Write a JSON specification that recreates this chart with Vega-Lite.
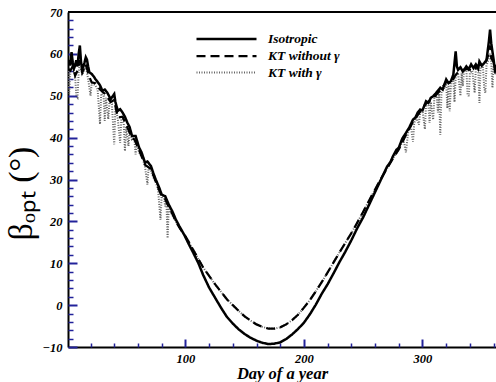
{
"$schema": "https://vega.github.io/schema/vega-lite/v6.json",
"width": 428, "height": 335,
"autosize": {"type": "none"},
"padding": {"left": 68, "top": 12, "right": 0, "bottom": 35},
"background": "white",
"config": {"view": {"stroke": null}, "font": "Liberation Serif", "axis": {"ticks": true, "tickOpacity": 1}},
"datasets": {
"iso": [{"d":1,"v":57.5},{"d":2,"v":58.5},{"d":3,"v":57.2},{"d":4,"v":60.4},{"d":5,"v":58},{"d":6,"v":56.5},{"d":7,"v":57.2},{"d":8,"v":58.5},{"d":9,"v":57},{"d":10,"v":60},{"d":11,"v":62},{"d":12,"v":58},{"d":13,"v":56.4},{"d":14,"v":57},{"d":15,"v":58},{"d":16,"v":59.2},{"d":17,"v":58.6},{"d":18,"v":57},{"d":19,"v":55.6},{"d":21,"v":55.2},{"d":23,"v":54.5},{"d":24,"v":54},{"d":26,"v":53.3},{"d":28,"v":52.5},{"d":30,"v":51.2},{"d":32,"v":51.5},{"d":34,"v":50.8},{"d":37,"v":49.2},{"d":40,"v":50.4},{"d":41,"v":48.5},{"d":43,"v":46.4},{"d":45,"v":46.8},{"d":47,"v":46},{"d":49,"v":45},{"d":51,"v":43.6},{"d":53,"v":42.5},{"d":55,"v":40.4},{"d":58,"v":40.4},{"d":61,"v":37.6},{"d":63,"v":36.5},{"d":66,"v":34},{"d":68,"v":34.3},{"d":71,"v":33.2},{"d":73,"v":31.5},{"d":75,"v":30},{"d":78,"v":28},{"d":80,"v":26.4},{"d":83,"v":26},{"d":86,"v":24},{"d":89,"v":22.4},{"d":92,"v":20.4},{"d":95,"v":18.8},{"d":99,"v":16.8},{"d":103,"v":14.5},{"d":107,"v":12.3},{"d":111,"v":10},{"d":115,"v":7.2},{"d":120,"v":4.2},{"d":125,"v":1.8},{"d":130,"v":-0.6},{"d":135,"v":-2.8},{"d":140,"v":-4.4},{"d":145,"v":-5.8},{"d":150,"v":-6.9},{"d":155,"v":-7.8},{"d":160,"v":-8.5},{"d":165,"v":-9.0},{"d":170,"v":-9.3},{"d":175,"v":-9.2},{"d":180,"v":-8.9},{"d":185,"v":-8.1},{"d":190,"v":-7.0},{"d":195,"v":-5.7},{"d":200,"v":-4.2},{"d":205,"v":-2.2},{"d":210,"v":0.1},{"d":215,"v":2.7},{"d":220,"v":5.0},{"d":225,"v":7.6},{"d":230,"v":10.3},{"d":235,"v":12.8},{"d":240,"v":15.5},{"d":245,"v":18.4},{"d":250,"v":21.0},{"d":255,"v":24.0},{"d":260,"v":27.0},{"d":265,"v":30.0},{"d":270,"v":33.0},{"d":273,"v":34.2},{"d":275,"v":35.5},{"d":278,"v":37.1},{"d":280,"v":37.6},{"d":283,"v":39.8},{"d":286,"v":41.1},{"d":289,"v":42.5},{"d":292,"v":44.3},{"d":294,"v":44.8},{"d":296,"v":46.0},{"d":298,"v":46.7},{"d":300,"v":46.5},{"d":303,"v":48.7},{"d":305,"v":48.3},{"d":307,"v":49.5},{"d":309,"v":49.9},{"d":311,"v":50.5},{"d":313,"v":51.2},{"d":315,"v":51.9},{"d":317,"v":51.5},{"d":320,"v":53.9},{"d":322,"v":53.0},{"d":324,"v":53.5},{"d":326,"v":55},{"d":328,"v":60.6},{"d":329,"v":57},{"d":330,"v":56.2},{"d":332,"v":56.8},{"d":334,"v":55.8},{"d":337,"v":57},{"d":339,"v":56.3},{"d":341,"v":57.5},{"d":343,"v":56.6},{"d":345,"v":57.5},{"d":347,"v":56.5},{"d":348,"v":58.2},{"d":350,"v":57.2},{"d":352,"v":57.8},{"d":354,"v":58.5},{"d":356,"v":63},{"d":357,"v":65.8},{"d":358,"v":62.5},{"d":360,"v":58.6},{"d":361,"v":56.2},{"d":363,"v":57.5},{"d":365,"v":58}],
"ktn": [{"d":1,"v":56.5},{"d":3,"v":56},{"d":5,"v":57},{"d":7,"v":54.8},{"d":9,"v":56},{"d":11,"v":58.5},{"d":13,"v":55.5},{"d":16,"v":57.5},{"d":19,"v":54.5},{"d":21,"v":53.2},{"d":24,"v":53},{"d":28,"v":51.5},{"d":32,"v":50.5},{"d":37,"v":48.5},{"d":40,"v":49},{"d":43,"v":44.8},{"d":47,"v":45},{"d":51,"v":42.5},{"d":55,"v":39.8},{"d":57,"v":39.6},{"d":61,"v":37},{"d":66,"v":33.5},{"d":71,"v":32.5},{"d":75,"v":29.5},{"d":80,"v":26},{"d":83,"v":25.3},{"d":86,"v":23.5},{"d":89,"v":21.8},{"d":92,"v":20},{"d":95,"v":18.5},{"d":100,"v":16.5},{"d":105,"v":14.0},{"d":110,"v":11.5},{"d":115,"v":9.0},{"d":120,"v":7.0},{"d":125,"v":5.0},{"d":130,"v":3.2},{"d":135,"v":1.4},{"d":140,"v":0.0},{"d":145,"v":-1.4},{"d":150,"v":-2.7},{"d":155,"v":-3.7},{"d":160,"v":-4.6},{"d":165,"v":-5.2},{"d":170,"v":-5.6},{"d":175,"v":-5.6},{"d":180,"v":-5.3},{"d":185,"v":-4.6},{"d":190,"v":-3.6},{"d":195,"v":-2.3},{"d":200,"v":-0.6},{"d":205,"v":1.2},{"d":210,"v":3.3},{"d":215,"v":5.5},{"d":220,"v":7.8},{"d":225,"v":10.2},{"d":230,"v":12.6},{"d":235,"v":14.9},{"d":240,"v":17.2},{"d":245,"v":19.7},{"d":250,"v":22.3},{"d":255,"v":25.0},{"d":260,"v":27.6},{"d":265,"v":30.2},{"d":270,"v":32.6},{"d":275,"v":35},{"d":280,"v":37.2},{"d":286,"v":40.6},{"d":292,"v":43.8},{"d":298,"v":46.2},{"d":303,"v":48.2},{"d":309,"v":49.4},{"d":315,"v":51.3},{"d":320,"v":53.3},{"d":324,"v":53},{"d":328,"v":55},{"d":330,"v":55.6},{"d":337,"v":56.4},{"d":343,"v":56},{"d":348,"v":57.5},{"d":352,"v":57.2},{"d":356,"v":60},{"d":357,"v":62},{"d":358,"v":59},{"d":360,"v":58},{"d":362,"v":55.8},{"d":365,"v":57.5}],
"ktg": [{"d":1,"v":56.5},{"d":2,"v":50.4},{"d":3,"v":56},{"d":5,"v":57},{"d":7,"v":54.8},{"d":8,"v":50},{"d":9,"v":49.6},{"d":10,"v":55.5},{"d":11,"v":58},{"d":13,"v":55},{"d":16,"v":57},{"d":18,"v":54},{"d":19,"v":52},{"d":20,"v":50},{"d":21,"v":53},{"d":24,"v":52.5},{"d":26,"v":51.5},{"d":28,"v":43.2},{"d":29,"v":50.5},{"d":31,"v":50},{"d":32,"v":44},{"d":33,"v":49.5},{"d":35,"v":44.4},{"d":36,"v":48.5},{"d":38,"v":48},{"d":40,"v":38.4},{"d":41,"v":47.5},{"d":43,"v":44.5},{"d":45,"v":38.8},{"d":46,"v":44.5},{"d":48,"v":43.5},{"d":49,"v":36.8},{"d":50,"v":42.5},{"d":52,"v":38},{"d":53,"v":41.5},{"d":55,"v":39.5},{"d":57,"v":39.5},{"d":58,"v":36},{"d":59,"v":38.5},{"d":61,"v":36.5},{"d":64,"v":35},{"d":66,"v":33},{"d":68,"v":28.8},{"d":69,"v":33},{"d":71,"v":32},{"d":73,"v":30.5},{"d":75,"v":29.5},{"d":77,"v":27.5},{"d":79,"v":20.4},{"d":80,"v":26},{"d":82,"v":25.5},{"d":83,"v":23.6},{"d":84,"v":25},{"d":85,"v":16},{"d":86,"v":23.5},{"d":88,"v":22},{"d":89,"v":21.5},{"d":92,"v":20},{"d":95,"v":18.5},{"d":100,"v":16.5},{"d":105,"v":14.0},{"d":110,"v":11.5},{"d":115,"v":9.0},{"d":120,"v":7.0},{"d":125,"v":5.0},{"d":130,"v":3.2},{"d":135,"v":1.4},{"d":140,"v":0.0},{"d":145,"v":-1.4},{"d":150,"v":-2.7},{"d":155,"v":-3.7},{"d":160,"v":-4.6},{"d":165,"v":-5.2},{"d":170,"v":-5.6},{"d":175,"v":-5.6},{"d":180,"v":-5.3},{"d":185,"v":-4.6},{"d":190,"v":-3.6},{"d":195,"v":-2.3},{"d":200,"v":-0.6},{"d":205,"v":1.2},{"d":210,"v":3.3},{"d":215,"v":5.5},{"d":220,"v":7.8},{"d":225,"v":10.2},{"d":230,"v":12.6},{"d":235,"v":14.9},{"d":240,"v":17.2},{"d":245,"v":19.7},{"d":250,"v":22.3},{"d":255,"v":25.0},{"d":260,"v":27.6},{"d":265,"v":30.2},{"d":270,"v":32.6},{"d":275,"v":35},{"d":280,"v":37.2},{"d":284,"v":39.5},{"d":286,"v":36.5},{"d":288,"v":41.5},{"d":290,"v":43},{"d":292,"v":39},{"d":293,"v":43.5},{"d":295,"v":44.8},{"d":297,"v":43.1},{"d":298,"v":46},{"d":300,"v":46.5},{"d":302,"v":42},{"d":303,"v":48},{"d":305,"v":47.8},{"d":306,"v":43.5},{"d":307,"v":48.5},{"d":309,"v":44.3},{"d":310,"v":49.4},{"d":312,"v":50},{"d":313,"v":46},{"d":314,"v":50.5},{"d":315,"v":40.7},{"d":316,"v":51},{"d":318,"v":51.5},{"d":320,"v":53},{"d":321,"v":47},{"d":322,"v":52.5},{"d":323,"v":46.3},{"d":324,"v":53},{"d":326,"v":54},{"d":327,"v":48.5},{"d":328,"v":54.5},{"d":330,"v":55.5},{"d":332,"v":50},{"d":333,"v":55.5},{"d":334,"v":52.3},{"d":335,"v":56},{"d":337,"v":56.2},{"d":338,"v":50.5},{"d":339,"v":49.9},{"d":340,"v":55.5},{"d":342,"v":56},{"d":344,"v":50.7},{"d":345,"v":56.5},{"d":347,"v":56.5},{"d":348,"v":48.3},{"d":349,"v":57},{"d":351,"v":57},{"d":352,"v":52},{"d":353,"v":50.7},{"d":354,"v":57.2},{"d":356,"v":59},{"d":357,"v":60},{"d":358,"v":58},{"d":359,"v":51.9},{"d":360,"v":57.5},{"d":362,"v":55.5},{"d":364,"v":56.5},{"d":365,"v":57}]
},
"resolve": {"axis": {"x": "independent", "y": "independent"}},
"layer": [
{
"encoding": {
 "x": {"field": "d", "type": "quantitative", "scale": {"domain": [1, 362], "nice": false, "zero": false},
   "axis": {"orient": "bottom", "title": "Day of a year", "values": [100,200,300], "grid": false, "labelOverlap": false, "ticks": false,
     "domainColor": "black", "domainWidth": 2,
     "labelFont": "Liberation Serif", "labelFontStyle": "italic", "labelFontWeight": "bold", "labelFontSize": 12.5, "labelColor": "black", "labelPadding": 5,
     "titleFont": "Liberation Serif", "titleFontStyle": "italic", "titleFontWeight": "bold", "titleFontSize": 16.5, "titleColor": "black", "titlePadding": 1}},
 "y": {"field": "v", "type": "quantitative", "scale": {"domain": [-10, 70], "nice": false, "zero": false},
   "axis": {"orient": "left", "title": "βₒₚₜ (°)", "values": [-10,0,10,20,30,40,50,60,70], "grid": false, "labelOverlap": false, "ticks": false,
     "domainColor": "black", "domainWidth": 2,
     "labelFont": "Liberation Serif", "labelFontStyle": "italic", "labelFontWeight": "bold", "labelFontSize": 12.5, "labelColor": "black", "labelPadding": 6,
     "titleFont": "Liberation Serif", "titleFontWeight": "normal", "titleFontSize": 34, "titleColor": "black", "titleX": -47, "titleY": 181, "titleBaseline": "middle", "titleAlign": "center"}},
 "color": {"field": "s", "type": "nominal", "scale": {"domain": ["a","b","c"], "range": ["#000000","#000000","#666666"]},
   "legend": {"orient": "none", "legendX": 149.5, "legendY": 18, "title": null, "symbolType": "M-4,0H4", "symbolSize": 225, "padding": 0, "rowPadding": 1,
     "labelExpr": "datum.value === 'a' ? 'Isotropic' : datum.value === 'b' ? 'KT without γ' : 'KT with γ'",
     "labelFont": "Liberation Serif", "labelFontStyle": "italic", "labelFontWeight": "bold", "labelFontSize": 13.5, "labelColor": "black", "labelOffset": 32.5}},
 "strokeDash": {"field": "s", "type": "nominal", "scale": {"domain": ["a","b","c"], "range": [[1,0],[9,5],[1,1.5]]}, "legend": null},
 "strokeWidth": {"field": "s", "type": "nominal", "scale": {"domain": ["a","b","c"], "range": [2.5,2,1]}, "legend": null}
},
"layer": [
 {"data": {"name": "ktg"}, "transform": [{"calculate": "'c'", "as": "s"}], "mark": {"type": "line", "clip": true}},
 {"data": {"name": "ktn"}, "transform": [{"calculate": "'b'", "as": "s"}], "mark": {"type": "line", "clip": true}},
 {"data": {"name": "iso"}, "transform": [{"calculate": "'a'", "as": "s"}], "mark": {"type": "line", "clip": true}}
]
},
{"data": {"values": [{}]}, "mark": {"type": "rule", "color": "black", "strokeWidth": 2},
 "encoding": {
  "y": {"datum": 70, "type": "quantitative", "axis": {"orient": "right", "offset": -428, "title": null, "values": [-10,0,10,20,30,40,50,60], "labels": false, "domain": false, "grid": false, "ticks": true, "tickColor": "#22229a", "tickWidth": 2, "tickSize": 9}},
  "x": {"datum": 1, "type": "quantitative", "axis": {"orient": "top", "offset": -335, "title": null, "values": [100,200,300], "labels": false, "domain": false, "grid": false, "ticks": true, "tickColor": "#22229a", "tickWidth": 2, "tickSize": 8}},
  "x2": {"datum": 362}
 }},
{"data": {"values": [{}]}, "mark": {"type": "rule", "color": "black", "strokeWidth": 2},
 "encoding": {
  "y": {"datum": 70, "type": "quantitative", "axis": {"orient": "right", "offset": -428, "title": null, "values": [-8,-6,-4,-2,2,4,6,8,12,14,16,18,22,24,26,28,32,34,36,38,42,44,46,48,52,54,56,58,62,64,66,68], "labels": false, "domain": false, "grid": false, "ticks": true, "tickColor": "#22229a", "tickWidth": 1.5, "tickSize": 5}},
  "x": {"datum": 1, "type": "quantitative", "axis": {"orient": "top", "offset": -335, "title": null, "values": [20,40,60,80,120,140,160,180,220,240,260,280,320,340,360], "labels": false, "domain": false, "grid": false, "ticks": true, "tickColor": "#22229a", "tickWidth": 1.5, "tickSize": 4}},
  "x2": {"datum": 362}
 }}
]
}
